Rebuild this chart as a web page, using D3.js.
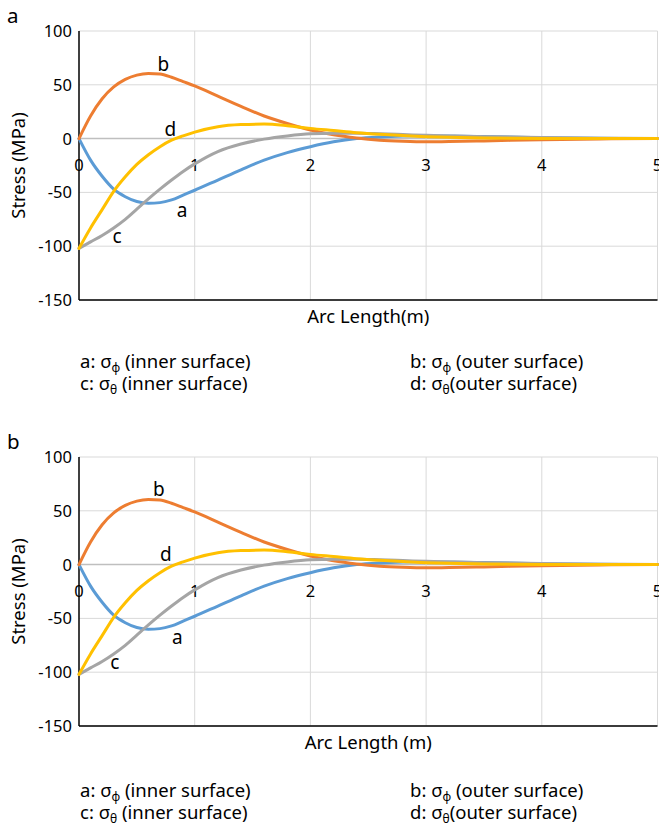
<!DOCTYPE html>
<html>
<head>
<meta charset="utf-8">
<script src="https://cdn.jsdelivr.net/npm/d3@7"></script>
<style>
  body { margin: 0; background: #fff; }
  text { font-family: "Noto Sans", sans-serif; fill: #000; }
</style>
</head>
<body>
<script>
// arc length (m)
const arcLen = [0, 0.1, 0.2, 0.3, 0.4, 0.5, 0.6, 0.7, 0.8, 0.9, 1.0, 1.2, 1.4, 1.6, 1.8, 2.0, 2.2, 2.4, 2.6, 2.8, 3.0, 3.2, 3.5, 4.0, 4.5, 5.0];
// stress (MPa)
const sigPhiInner   = [0, -20, -35, -47, -54, -58.5, -60, -59.5, -57, -52.5, -48, -38.5, -29, -20, -13, -7.5, -3, 0, 1.5, 2.3, 2.6, 2.4, 1.9, 0.9, 0.3, 0];
const sigPhiOuter   = [0, 21, 37, 48, 55, 59, 60.5, 60, 57, 53, 49, 39.5, 30, 21, 14, 8, 3.5, 0.5, -1.5, -2.5, -3, -2.8, -2.2, -1, -0.3, 0];
const sigThetaInner = [-102, -96, -90, -83, -75, -65.5, -56, -47, -38.5, -30.5, -23.5, -12, -5, -0.5, 2.5, 4.5, 5, 5, 4.5, 3.8, 3, 2.5, 1.8, 1, 0.4, 0];
const sigThetaOuter = [-102, -83, -66, -49, -35.5, -24, -15, -7.5, -1.5, 2.5, 6, 11, 13, 13.5, 12, 9.5, 7.5, 5.5, 4, 2.8, 1.8, 1.2, 0.6, 0.2, 0, 0];

const xTicks = [0, 1, 2, 3, 4, 5];
const yTicks = [100, 50, 0, -50, -100, -150];

const series = [
  { key: "a", vals: sigPhiInner,   color: "#5B9BD5" },
  { key: "b", vals: sigPhiOuter,   color: "#ED7D31" },
  { key: "c", vals: sigThetaInner, color: "#A5A5A5" },
  { key: "d", vals: sigThetaOuter, color: "#FFC000" }
];

// curve tags, in data coords [x, stress]
const tagsA = { a: [0.89, -66], b: [0.73, 69], c: [0.33, -90.5], d: [0.79, 9] };
const tagsB = { a: [0.85, -67], b: [0.69, 70], c: [0.31, -90.5], d: [0.75, 9.5] };

const legendRows = [
  [{ lead: "a: σ", sub: "ϕ", tail: " (inner surface)" }, { lead: "b: σ", sub: "ϕ", tail: " (outer surface)" }],
  [{ lead: "c: σ", sub: "θ", tail: " (inner surface)" }, { lead: "d: σ", sub: "θ", tail: "(outer surface)" }]
];

const W = 659, H = 827;
const svg = d3.select("body").append("svg").attr("width", W).attr("height", H);

const x = d3.scaleLinear().domain([0, 5]).range([79, 657.5]);

function panel(top, letter, xTitle, tags, legendTop) {
  const g = svg.append("g").attr("transform", "translate(0," + top + ")");
  const y = d3.scaleLinear().domain([-150, 100]).range([300, 31]);

  // grid
  g.append("g").selectAll("line").data(yTicks).join("line")
    .attr("x1", x(0)).attr("x2", x(5))
    .attr("y1", d => y(d)).attr("y2", d => y(d))
    .attr("stroke", d => d === 0 ? "#BFBFBF" : "#D9D9D9")
    .attr("stroke-width", d => d === 0 ? 1.5 : 1);
  g.append("g").selectAll("line").data(xTicks.slice(1)).join("line")
    .attr("x1", d => x(d)).attr("x2", d => x(d))
    .attr("y1", y(100)).attr("y2", y(-150))
    .attr("stroke", "#D9D9D9");

  // black frame lines
  g.append("line").attr("x1", x(0)).attr("x2", x(0)).attr("y1", y(100)).attr("y2", y(-150))
    .attr("stroke", "#000").attr("stroke-width", 1.5);
  g.append("line").attr("x1", x(0)).attr("x2", x(5)).attr("y1", y(-150)).attr("y2", y(-150))
    .attr("stroke", "#000").attr("stroke-width", 1.5);

  // tick labels
  g.append("g").selectAll("text").data(yTicks).join("text")
    .attr("x", 72).attr("y", d => y(d) + 6)
    .attr("text-anchor", "end").attr("font-size", 16.5)
    .text(d => d);
  g.append("g").selectAll("text").data(xTicks).join("text")
    .attr("x", d => x(d)).attr("y", y(0) + 32)
    .attr("text-anchor", "middle").attr("font-size", 16.5)
    .text(d => d);

  // curves
  const line = d3.line()
    .x((v, i) => x(arcLen[i]))
    .y(v => y(v))
    .curve(d3.curveMonotoneX);
  g.append("g").selectAll("path").data(series).join("path")
    .attr("d", s => line(s.vals))
    .attr("fill", "none")
    .attr("stroke", s => s.color)
    .attr("stroke-width", 3)
    .attr("stroke-linecap", "round");

  // curve tags
  g.append("g").selectAll("text").data(series).join("text")
    .attr("x", s => x(tags[s.key][0])).attr("y", s => y(tags[s.key][1]) + 7)
    .attr("text-anchor", "middle").attr("font-size", 19)
    .text(s => s.key);

  // axis titles
  g.append("text").attr("x", (x(0) + x(5)) / 2).attr("y", 323)
    .attr("text-anchor", "middle").attr("font-size", 18.5).text(xTitle);
  g.append("text").attr("transform", "translate(25," + ((y(100) + y(-150)) / 2) + ") rotate(-90)")
    .attr("text-anchor", "middle").attr("font-size", 18.5).text("Stress (MPa)");

  // panel letter
  g.append("text").attr("x", 7).attr("y", 23).attr("font-size", 20.5).text(letter);

  // legend text
  const colX = [80, 410];
  legendRows.forEach((row, r) => {
    row.forEach((item, c) => {
      const t = g.append("text").attr("x", colX[c]).attr("y", legendTop + r * 22).attr("font-size", 18.5);
      t.append("tspan").text(item.lead);
      t.append("tspan").attr("font-size", 12).attr("dy", 4).text(item.sub);
      t.append("tspan").attr("dy", -4).text(item.tail);
    });
  });
}

panel(0, "a", "Arc Length(m)", tagsA, 368);
panel(426, "b", "Arc Length (m)", tagsB, 371);
</script>
</body>
</html>
